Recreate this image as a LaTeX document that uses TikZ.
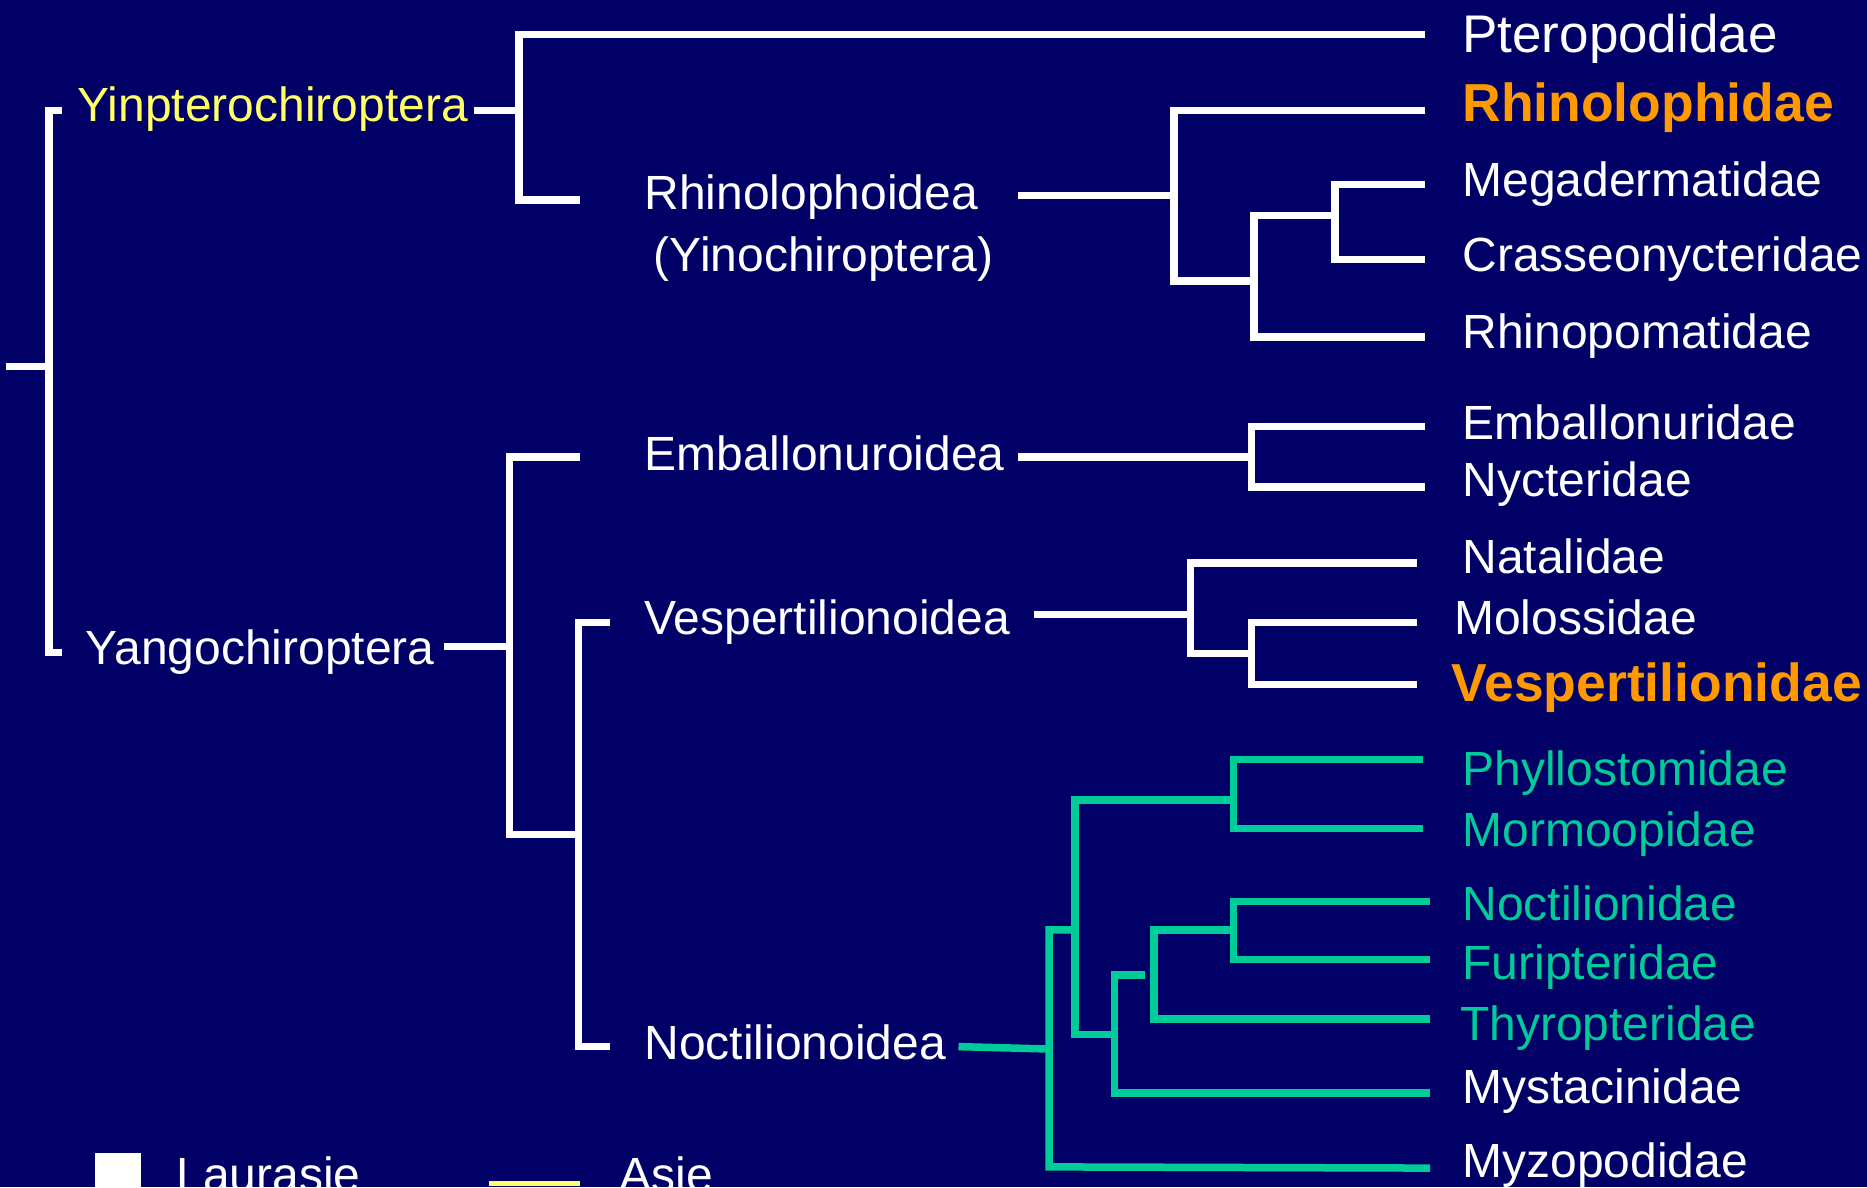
\documentclass[tikz,border=0pt]{standalone}
\usepackage{fontspec}
\setmainfont{Liberation Sans}
\definecolor{bgnavy}{HTML}{000066}
\definecolor{tealg}{HTML}{00CC99}
\definecolor{orng}{HTML}{FF9900}
\definecolor{yel}{HTML}{FFFF66}
\tikzset{
  br/.style={draw=white, line width=7.5pt},
  gbr/.style={draw=tealg, line width=7.5pt},
  lbl/.style={anchor=base west, inner sep=0pt, text=white, font=\fontsize{48}{56}\selectfont},
  big/.style={lbl, font=\fontsize{53}{60}\selectfont},
  hot/.style={lbl, text=orng, font=\fontsize{53.5}{60}\selectfont\bfseries},
  grn/.style={lbl, text=tealg},
}
\begin{document}
\begin{tikzpicture}[x=1.1907pt, y=-1.1907pt]
\useasboundingbox (0,0) rectangle (1568,997);
\clip (0,0) rectangle (1568,997);
\fill[bgnavy] (0,0) rectangle (1568,997);

% labels
\node[lbl, text=yel] (yin) at (65,102) {Yinpterochiroptera};
\node[lbl] (yang) at (72,558) {Yangochiroptera};
\node[lbl] (rhs) at (541,176) {Rhinolophoidea};
\node[lbl] (yino) at (549,228) {(Yinochiroptera)};
\node[lbl] (emb) at (541,395) {Emballonuroidea};
\node[lbl] (ves) at (541,533) {Vespertilionoidea};
\node[lbl] (noc) at (541,890) {Noctilionoidea};

\node[big] (ptero) at (1228,44) {Pteropodidae};
\node[hot] (rhino) at (1228,102) {Rhinolophidae};
\node[lbl] (mega) at (1228,165) {Megadermatidae};
\node[lbl] (crass) at (1228,228) {Crasseonycteridae};
\node[lbl] (rpom) at (1228,293) {Rhinopomatidae};
\node[lbl] (embf) at (1228,369) {Emballonuridae};
\node[lbl] (nyc) at (1228,417) {Nycteridae};
\node[lbl] (nat) at (1228,482) {Natalidae};
\node[lbl] (mol) at (1221,533) {Molossidae};
\node[hot] (vesf) at (1219,589) {Vespertilionidae};
\node[grn] (phy) at (1228,660) {Phyllostomidae};
\node[grn] (mor) at (1228,711) {Mormoopidae};
\node[grn] (nocf) at (1228,773) {Noctilionidae};
\node[grn] (fur) at (1228,823) {Furipteridae};
\node[grn] (thy) at (1226,874) {Thyropteridae};
\node[lbl] (mys) at (1228,927) {Mystacinidae};
\node[lbl] (myz) at (1228,989) {Myzopodidae};

% legend
\node[fill=white, inner sep=0pt, minimum width=38*1.1907pt, minimum height=42*1.1907pt, anchor=north west] (lsq) at (80,968) {};
\node[lbl] (laur) at (148,1001) {Laurasie};
\coordinate (lya) at (411,994);
\coordinate (lyb) at (487,994);
\draw[yel, line width=5pt] (lya) -- (lyb);
\node[lbl] (asie) at (520,1001) {Asie};

% root
\coordinate (root) at (5,308);
\coordinate (rv) at (41,308);
\coordinate (ra) at (52,93);
\coordinate (rb) at (52,548);
\draw[br] (root) -- (rv);
\draw[br] (ra) -- (41,93) -- (41,548) -- (rb);

% Yinpterochiroptera
\coordinate (yinE) at (398,93);
\coordinate (yinV) at (436,93);
\draw[br] (yinE) -- (yinV);
\coordinate (pteroL) at (1197,29);
\coordinate (rhsL) at (487,168);
\draw[br] (pteroL) -- (436,29) -- (436,168) -- (rhsL);

\coordinate (rhsR) at (855,164);
\coordinate (rhsV) at (986,164);
\draw[br] (rhsR) -- (rhsV);
\coordinate (rhinoL) at (1197,93);
\coordinate (c1) at (1053,236);
\draw[br] (rhinoL) -- (986,93) -- (986,236) -- (c1);
\coordinate (c2) at (1121,181);
\coordinate (rpomL) at (1197,283);
\draw[br] (c2) -- (1053,181) -- (1053,283) -- (rpomL);
\coordinate (megaL) at (1197,155);
\coordinate (crassL) at (1197,218);
\draw[br] (megaL) -- (1121,155) -- (1121,218) -- (crassL);

% Yangochiroptera
\coordinate (yangE) at (373,543);
\coordinate (yangV) at (428,543);
\draw[br] (yangE) -- (yangV);
\coordinate (embL) at (487,384);
\coordinate (c3) at (486,701);
\draw[br] (embL) -- (428,384) -- (428,701) -- (c3);
\coordinate (vesL) at (512,523);
\coordinate (nocL) at (512,879);
\draw[br] (vesL) -- (486,523) -- (486,879) -- (nocL);

\coordinate (embR) at (855,384);
\coordinate (embV) at (1051,384);
\draw[br] (embR) -- (embV);
\coordinate (embfL) at (1197,358);
\coordinate (nycL) at (1197,409);
\draw[br] (embfL) -- (1051,358) -- (1051,409) -- (nycL);

\coordinate (vesR) at (868,516);
\coordinate (vesV) at (1000,516);
\draw[br] (vesR) -- (vesV);
\coordinate (natL) at (1190,473);
\coordinate (c4) at (1051,549);
\draw[br] (natL) -- (1000,473) -- (1000,549) -- (c4);
\coordinate (molL) at (1190,523);
\coordinate (vesfL) at (1190,575);
\draw[br] (molL) -- (1051,523) -- (1051,575) -- (vesfL);

% Noctilionoidea (green)
\coordinate (nocR) at (805,879);
\coordinate (nocV) at (881,881);
\draw[gbr] (nocR) -- (nocV);
\coordinate (g1) at (903,781);
\coordinate (myzL) at (1201,981);
\draw[gbr] (g1) -- (881,781) -- (881,980) -- (myzL);
\coordinate (g2) at (1036,672);
\coordinate (g3) at (936,869);
\draw[gbr] (g2) -- (903,672) -- (903,869) -- (g3);
\coordinate (phyL) at (1195,638);
\coordinate (morL) at (1195,696);
\draw[gbr] (phyL) -- (1036,638) -- (1036,696) -- (morL);
\coordinate (g4) at (962,819);
\coordinate (mysL) at (1201,918);
\draw[gbr] (g4) -- (936,819) -- (936,918) -- (mysL);
\coordinate (g5) at (1036,781);
\coordinate (thyL) at (1201,856);
\draw[gbr] (g5) -- (969,781) -- (969,856) -- (thyL);
\coordinate (nocfL) at (1201,757);
\coordinate (furL) at (1201,806);
\draw[gbr] (nocfL) -- (1036,757) -- (1036,806) -- (furL);
\end{tikzpicture}
\end{document}
